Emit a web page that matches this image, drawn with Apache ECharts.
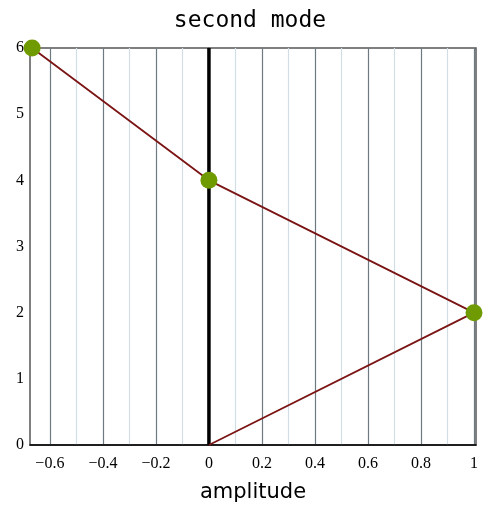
<!DOCTYPE html>
<html>
<head>
<meta charset="utf-8">
<script src="https://cdn.jsdelivr.net/npm/echarts@6/dist/echarts.min.js"></script>
<style>
  html, body { margin: 0; padding: 0; background: #fff; }
  #chart { width: 500px; height: 508px; }
</style>
</head>
<body>
<div id="chart"></div>
<script>
// mode shape points (amplitude, height)
var modeX = [0, 1, 0, -0.667];
var modeY = [0, 2, 4, 6];
var modeMarked = [false, true, true, true];
// the rest position line
var restX = [0, 0];
var restY = [0, 6];
// tick values
var xMajorTicks = [-0.6, -0.4, -0.2, 0, 0.2, 0.4, 0.6, 0.8, 1];
var xMinorTicks = [-0.5, -0.3, -0.1, 0.1, 0.3, 0.5, 0.7, 0.9];

var chart = echarts.init(document.getElementById('chart'));

var option = {
  animation: false,
  title: {
    text: 'second mode',
    left: 'center',
    top: 5,
    textStyle: {
      fontFamily: 'DejaVu Sans Mono',
      fontSize: 23,
      fontWeight: 'normal',
      color: '#000'
    }
  },
  grid: {
    left: 30,
    right: 24,
    top: 48,
    bottom: 62,
    show: true,
    borderColor: '#555',
    borderWidth: 1.5
  },
  xAxis: [{
    type: 'value',
    min: -0.675,
    max: 1.0075,
    name: 'amplitude',
    nameLocation: 'middle',
    nameGap: 37,
    nameTextStyle: {
      fontFamily: 'DejaVu Sans',
      fontSize: 21,
      color: '#000'
    },
    axisLine: { lineStyle: { color: '#000', width: 1.5 } },
    axisTick: { show: false, customValues: xMajorTicks },
    axisLabel: {
      customValues: xMajorTicks,
      fontFamily: 'Liberation Serif',
      fontSize: 16,
      color: '#000',
      margin: 11,
      formatter: function (v) { return String(Math.round(v * 10) / 10).replace('-', '\u2212'); }
    },
    splitLine: { show: true, lineStyle: { color: '#6e7a80', width: 1.2 } }
  }, {
    type: 'value',
    min: -0.675,
    max: 1.0075,
    position: 'bottom',
    axisLine: { show: false },
    axisTick: { show: false, customValues: xMinorTicks },
    axisLabel: { show: false, customValues: xMinorTicks },
    splitLine: { show: true, lineStyle: { color: '#d3dde4', width: 1.2 } }
  }],
  yAxis: {
    type: 'value',
    min: 0,
    max: 6,
    interval: 1,
    axisLine: { show: true, lineStyle: { color: '#666', width: 2 } },
    axisTick: { show: false },
    axisLabel: {
      fontFamily: 'Liberation Serif',
      fontSize: 16,
      color: '#000',
      margin: 6
    },
    splitLine: { show: false }
  },
  series: [{
    type: 'line',
    data: restX.map(function (x, i) { return [x, restY[i]]; }),
    showSymbol: false,
    lineStyle: { color: '#000', width: 3.5 },
    z: 2
  }, {
    type: 'line',
    data: modeX.map(function (x, i) {
      return { value: [x, modeY[i]], symbol: modeMarked[i] ? 'circle' : 'none' };
    }),
    symbol: 'circle',
    symbolSize: 17,
    itemStyle: { color: '#6f9a00' },
    lineStyle: { color: '#7b1414', width: 1.8 },
    z: 3
  }]
};

chart.setOption(option);
</script>
</body>
</html>
